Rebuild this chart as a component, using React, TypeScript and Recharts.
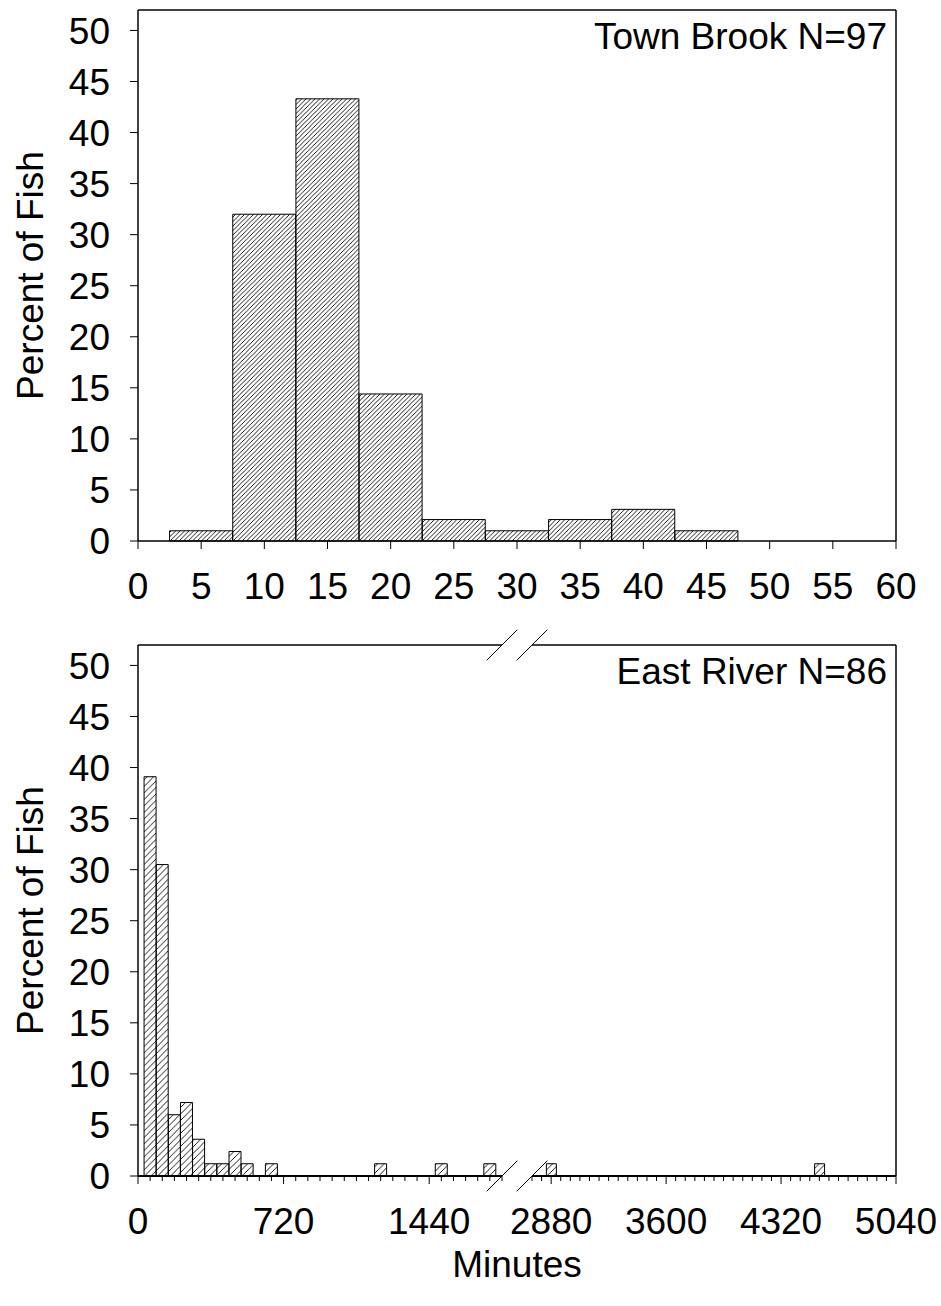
import React from "react"
import { BarChart, Bar, XAxis, YAxis, ReferenceLine } from "recharts"

// Town Brook: 5-minute bins, bin centre in minutes
const townBins = [5, 10, 15, 20, 25, 30, 35, 40, 45, 50, 55]
const townPct = [1.0, 32.0, 43.3, 14.4, 2.1, 1.0, 2.1, 3.1, 1.0, 0, 0]
const townTicks = [0, 5, 10, 15, 20, 25, 30, 35, 40, 45, 50, 55, 60]

// East River: hourly bins (centre in minutes), non-empty bins only
const eastBins = [60, 120, 180, 240, 300, 360, 420, 480, 540, 660, 1200, 1500, 1740, 2880, 4560]
const eastPct = [39.1, 30.5, 6.0, 7.2, 3.6, 1.2, 1.2, 2.4, 1.2, 1.2, 1.2, 1.2, 1.2, 1.2, 1.2]
const eastEarlyLabels = [0, 720, 1440]
const eastLateLabels = [2880, 3600, 4320, 5040]

const pctTicks = [0, 5, 10, 15, 20, 25, 30, 35, 40, 45, 50]

// layout
const W = 941
const PLOT_LEFT = 138
const PLOT_RIGHT = 896
const TOP1 = 10
const BOTTOM1 = 541
const TOP2 = 645
const BOTTOM2 = 1176
const BREAK_L = 502
const BREAK_R = 532
const Y_MAX = 52
const EARLY: [number, number] = [0, 1800]
const LATE: [number, number] = [2760, 5040]
const FONT = 37

const townData = townBins.map((bin, i) => ({ bin, pct: townPct[i] }))

const hourly = (from: number, to: number) => {
  const out: number[] = []
  for (let m = from; m <= to; m += 60) out.push(m)
  return out
}

const eastTable = ([lo, hi]: [number, number]) =>
  hourly(lo + 60, hi - 60).map((bin) => {
    const i = eastBins.indexOf(bin)
    return { bin, pct: i >= 0 ? eastPct[i] : 0 }
  })

const hatch = (id: string, s: number) => (
  <defs>
    <pattern id={id} patternUnits="userSpaceOnUse" width={s} height={s}>
      <path
        d={`M${-s / 4},${s / 4} l${s / 2},${-s / 2} M0,${s} l${s},${-s} M${(s * 3) / 4},${(s * 5) / 4} l${s / 2},${-s / 2}`}
        stroke="#000"
        strokeWidth={0.9}
      />
    </pattern>
  </defs>
)

const tickText = { fill: "#000", fontSize: FONT }
const axisLine = { stroke: "#000", strokeWidth: 1.5 }
const bottomAxisLine = { stroke: "#000", strokeWidth: 2 }

const yLabel = {
  value: "Percent of Fish",
  angle: -90,
  position: "insideLeft" as const,
  offset: 30,
  style: { textAnchor: "middle", fontSize: FONT, fill: "#000" },
}

function HourTick(props: any) {
  const { x, y, payload, majors } = props
  const major = majors.includes(payload.value)
  return (
    <g>
      <line x1={x} x2={x} y1={y} y2={y + (major ? 8 : 5)} stroke="#000" strokeWidth={1} />
      {major && (
        <text x={x} y={y + 58} textAnchor="middle" fontSize={FONT} fill="#000">
          {payload.value}
        </text>
      )}
    </g>
  )
}

function PctAxis() {
  return (
    <YAxis
      type="number"
      domain={[0, Y_MAX]}
      ticks={pctTicks}
      interval={0}
      width={PLOT_LEFT}
      tickSize={8}
      tickMargin={20}
      tick={tickText}
      axisLine={axisLine}
      tickLine={{ stroke: "#000" }}
      label={yLabel}
    />
  )
}

export default function App() {
  const h2 = 1306 - (TOP2 - 20)
  const slash = 15.3
  return (
    <div style={{ position: "absolute", left: 0, top: 0, width: W, height: 1306, background: "#fff", fontFamily: "'Liberation Sans', Arial, sans-serif" }}>
      <div style={{ position: "absolute", left: 0, top: 0 }}>
        <BarChart
          width={W}
          height={620}
          data={townData}
          margin={{ top: TOP1, right: W - PLOT_RIGHT, left: 0, bottom: 0 }}
          barCategoryGap={0}
          barGap={0}
        >
          {hatch("hatch-town", 4.5)}
          <XAxis
            dataKey="bin"
            type="number"
            domain={[0, 60]}
            ticks={townTicks}
            interval={0}
            height={620 - BOTTOM1}
            tickSize={8}
            tickMargin={24}
            tick={tickText}
            axisLine={axisLine}
            tickLine={{ stroke: "#000" }}
          />
          {PctAxis()}
          <ReferenceLine y={Y_MAX} stroke="#000" strokeWidth={1.5} />
          <ReferenceLine x={60} stroke="#000" strokeWidth={1.5} />
          <Bar dataKey="pct" fill="url(#hatch-town)" stroke="#000" strokeWidth={1} isAnimationActive={false} />
        </BarChart>
      </div>

      <div style={{ position: "absolute", left: 0, top: TOP2 - 20 }}>
        <BarChart
          width={BREAK_L + 18}
          height={h2}
          data={eastTable(EARLY)}
          margin={{ top: 20, right: 18, left: 0, bottom: 0 }}
          barCategoryGap={0}
          barGap={0}
        >
          {hatch("hatch-east", 6.5)}
          <XAxis
            dataKey="bin"
            type="number"
            domain={EARLY}
            ticks={hourly(EARLY[0], EARLY[1])}
            interval={0}
            height={h2 - 20 - (BOTTOM2 - TOP2)}
            tickSize={0}
            tickMargin={0}
            tickLine={false}
            tick={(p: any) => <HourTick {...p} majors={eastEarlyLabels} />}
            axisLine={bottomAxisLine}
          />
          {PctAxis()}
          <ReferenceLine y={Y_MAX} stroke="#000" strokeWidth={1.5} />
          <Bar dataKey="pct" fill="url(#hatch-east)" stroke="#000" strokeWidth={1} isAnimationActive={false} />
        </BarChart>
      </div>

      <div style={{ position: "absolute", left: BREAK_R - 32, top: TOP2 - 20 }}>
        <BarChart
          width={W - (BREAK_R - 32)}
          height={h2}
          data={eastTable(LATE)}
          margin={{ top: 20, right: W - PLOT_RIGHT, left: 32, bottom: 0 }}
          barCategoryGap={0}
          barGap={0}
        >
          <XAxis
            dataKey="bin"
            type="number"
            domain={LATE}
            ticks={hourly(LATE[0], LATE[1])}
            interval={0}
            height={h2 - 20 - (BOTTOM2 - TOP2)}
            tickSize={0}
            tickMargin={0}
            tickLine={false}
            tick={(p: any) => <HourTick {...p} majors={eastLateLabels} />}
            axisLine={bottomAxisLine}
          />
          <YAxis type="number" domain={[0, Y_MAX]} hide />
          <ReferenceLine y={Y_MAX} stroke="#000" strokeWidth={1.5} />
          <ReferenceLine x={LATE[1]} stroke="#000" strokeWidth={1.5} />
          <Bar dataKey="pct" fill="url(#hatch-east)" stroke="#000" strokeWidth={1} isAnimationActive={false} />
        </BarChart>
      </div>

      <svg width={W} height={1306} style={{ position: "absolute", left: 0, top: 0, pointerEvents: "none" }}>
        <text x={887} y={TOP1 + 39} textAnchor="end" fontSize={FONT} fill="#000">Town Brook N=97</text>
        <text x={887} y={TOP2 + 39} textAnchor="end" fontSize={FONT} fill="#000">East River N=86</text>
        <text x={(BREAK_L + BREAK_R) / 2} y={1277} textAnchor="middle" fontSize={FONT} fill="#000">Minutes</text>
        {[BREAK_L, BREAK_R].flatMap((cx) =>
          [TOP2, BOTTOM2].map((cy) => (
            <line key={`${cx}-${cy}`} x1={cx - slash} y1={cy + slash} x2={cx + slash} y2={cy - slash} stroke="#000" strokeWidth={1} />
          ))
        )}
      </svg>
    </div>
  )
}
